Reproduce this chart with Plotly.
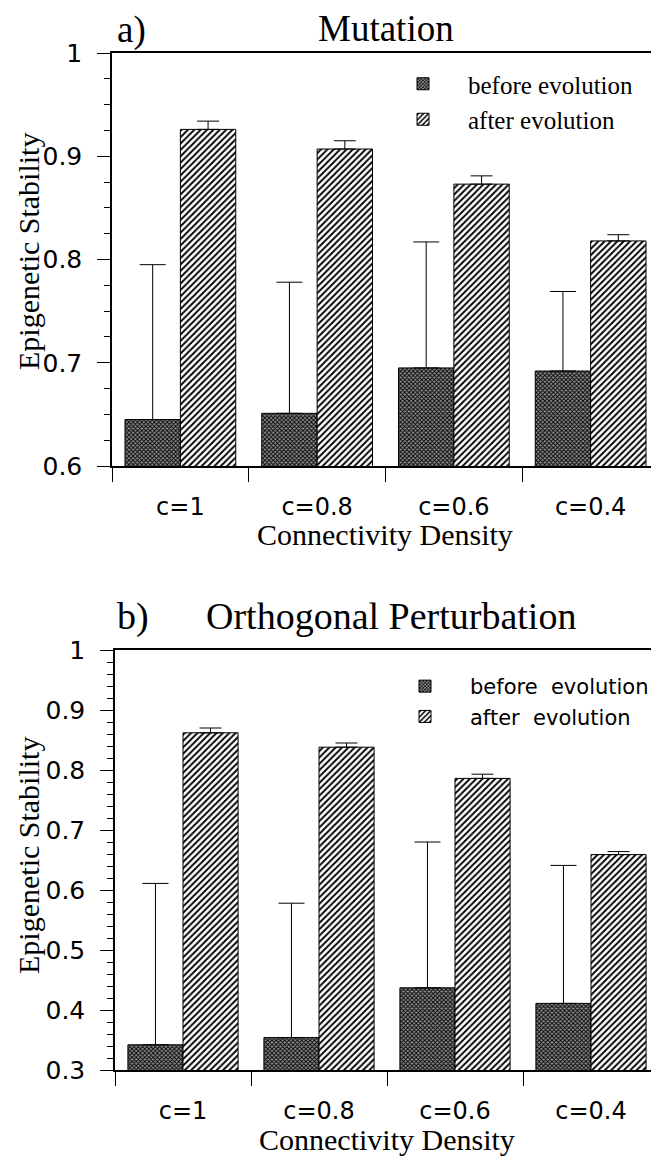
import plotly.graph_objects as go

# data
categories = ["c=1", "c=0.8", "c=0.6", "c=0.4"]

mut_before = [0.645, 0.651, 0.695, 0.692]
mut_before_top = [0.795, 0.778, 0.817, 0.769]
mut_after = [0.926, 0.907, 0.873, 0.818]
mut_after_top = [0.934, 0.915, 0.881, 0.824]

orth_before = [0.342, 0.354, 0.437, 0.411]
orth_before_top = [0.611, 0.578, 0.680, 0.641]
orth_after = [0.862, 0.838, 0.786, 0.659]
orth_after_top = [0.870, 0.845, 0.793, 0.664]

# the page body has an 8px margin, so the figure is shrunk by that much
OFF = 8
W, H = 659 - OFF, 1160 - OFF
SERIF = "Liberation Serif"
SANS = "DejaVu Sans"


def px(x):
    # screen column -> paper x
    return (x - OFF) / W


def py(y):
    # screen row -> paper y
    return 1 - (y - OFF) / H


def up_err(vals, tops, cap):
    return dict(
        type="data",
        symmetric=False,
        array=[t - v for v, t in zip(vals, tops)],
        arrayminus=[0] * len(vals),
        color="black",
        thickness=1,
        width=cap,
    )


before_marker = dict(
    color="white",
    line=dict(color="black", width=1),
    pattern=dict(shape="x", size=3, solidity=0.5, fgcolor="black", bgcolor="#8c8c8c"),
)
after_marker = dict(
    color="white",
    line=dict(color="black", width=1),
    pattern=dict(shape="/", size=4.5, solidity=0.42, fgcolor="black", bgcolor="white"),
)

fig = go.Figure()

fig.add_trace(go.Bar(x=categories, y=mut_before, name="before evolution", marker=before_marker,
                     error_y=up_err(mut_before, mut_before_top, 13), xaxis="x", yaxis="y", legend="legend"))
fig.add_trace(go.Bar(x=categories, y=mut_after, name="after evolution", marker=after_marker,
                     error_y=up_err(mut_after, mut_after_top, 11), xaxis="x", yaxis="y", legend="legend"))
fig.add_trace(go.Bar(x=categories, y=orth_before, name="before  evolution", marker=before_marker,
                     error_y=up_err(orth_before, orth_before_top, 13), xaxis="x2", yaxis="y2", legend="legend2"))
fig.add_trace(go.Bar(x=categories, y=orth_after, name="after  evolution", marker=after_marker,
                     error_y=up_err(orth_after, orth_after_top, 11), xaxis="x2", yaxis="y2", legend="legend2"))

xcommon = dict(
    type="category",
    range=[-0.5, 3.5],
    automargin=False,
    showline=True,
    linecolor="black",
    linewidth=1.5,
    mirror=True,
    ticks="outside",
    tickson="boundaries",
    ticklen=14,
    tickcolor="black",
    tickfont=dict(family=SANS, size=24, color="black"),
    showgrid=False,
    zeroline=False,
)
ycommon = dict(
    automargin=False,
    showline=True,
    linecolor="black",
    linewidth=1.5,
    ticks="outside",
    ticklen=13,
    tickcolor="black",
    tickfont=dict(family=SANS, size=25, color="black"),
    ticklabelstandoff=10,
    showgrid=False,
    zeroline=False,
)

legend_common = dict(
    xanchor="left",
    yanchor="top",
    bgcolor="rgba(0,0,0,0)",
    itemwidth=80,
    tracegroupgap=0,
)

fig.update_layout(
    template="none",
    width=W,
    height=H,
    autosize=False,
    margin=dict(l=0, r=0, t=0, b=0),
    paper_bgcolor="white",
    plot_bgcolor="white",
    barmode="group",
    bargap=0.19,
    bargroupgap=0,
    xaxis=dict(domain=[px(112), 1], anchor="y", ticklabelstandoff=18, **xcommon),
    yaxis=dict(domain=[py(466), py(53)], anchor="x", range=[0.6, 1.0],
               tickvals=[0.6, 0.7, 0.8, 0.9, 1.0], ticktext=["0.6", "0.7", "0.8", "0.9", "1"],
               minor=dict(dtick=0.025, tick0=0.6, ticks="outside", ticklen=6, tickcolor="black"),
               **ycommon),
    xaxis2=dict(domain=[px(115), 1], anchor="y2", ticklabelstandoff=18, **xcommon),
    yaxis2=dict(domain=[py(1070), py(650)], anchor="x2", range=[0.3, 1.0],
                tickvals=[0.3, 0.4, 0.5, 0.6, 0.7, 0.8, 0.9, 1.0],
                ticktext=["0.3", "0.4", "0.5", "0.6", "0.7", "0.8", "0.9", "1"],
                minor=dict(dtick=0.02, tick0=0.3, ticks="outside", ticklen=6, tickcolor="black"),
                **ycommon),
    legend=dict(x=px(378), y=py(61), font=dict(family=SERIF, size=25, color="black"), **legend_common),
    legend2=dict(x=px(380), y=py(666), font=dict(family=SANS, size=21, color="black"), **legend_common),
    showlegend=True,
)

annos = [
    dict(text="a)", x=px(115), y=py(30), xanchor="left", font=dict(family=SERIF, size=37)),
    dict(text="Mutation", x=px(386), y=py(28), xanchor="center", font=dict(family=SERIF, size=37)),
    dict(text="b)", x=px(115), y=py(616), xanchor="left", font=dict(family=SERIF, size=38)),
    dict(text="Orthogonal Perturbation", x=px(391), y=py(616), xanchor="center",
         font=dict(family=SERIF, size=38)),
    dict(text="Connectivity Density", x=px(385), y=py(534), xanchor="center",
         font=dict(family=SERIF, size=30)),
    dict(text="Connectivity Density", x=px(387), y=py(1139), xanchor="center",
         font=dict(family=SERIF, size=30)),
    dict(text="Epigenetic Stability", x=px(28), y=py(252), textangle=-90, xanchor="center",
         font=dict(family=SERIF, size=30)),
    dict(text="Epigenetic Stability", x=px(28), y=py(856), textangle=-90, xanchor="center",
         font=dict(family=SERIF, size=30)),
]
for a in annos:
    a.update(xref="paper", yref="paper", yanchor="middle", showarrow=False)
    a["font"]["color"] = "black"
    fig.add_annotation(**a)

fig.write_html("out.html")
